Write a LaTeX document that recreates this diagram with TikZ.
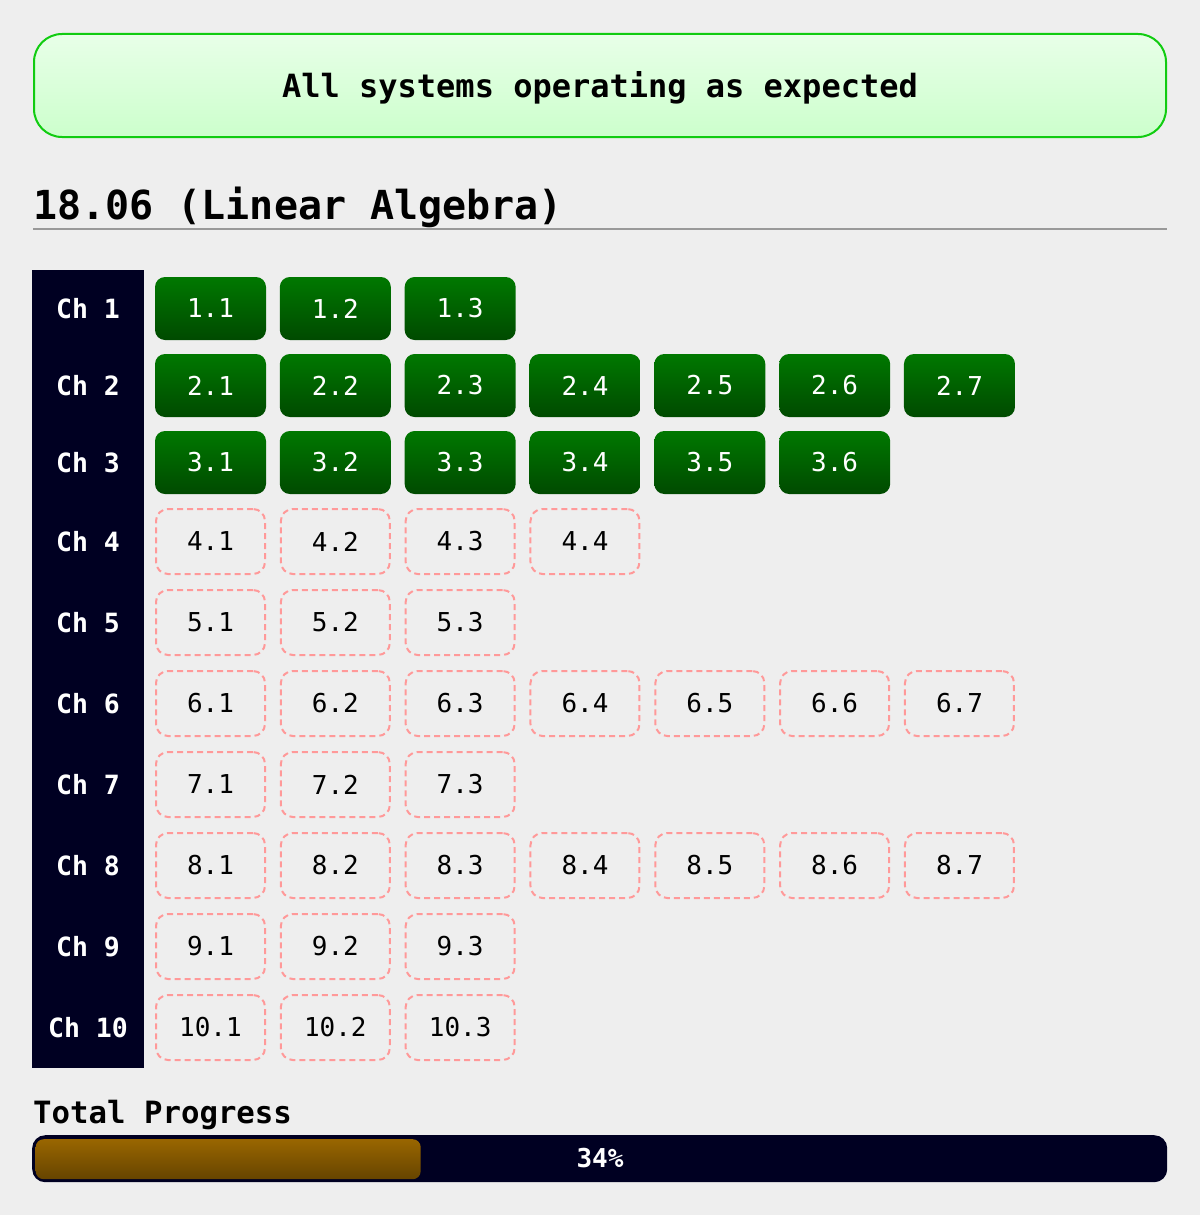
\documentclass[tikz,border=0pt]{standalone}
\usepackage{fontspec}
\setmonofont{DejaVu Sans Mono}
\definecolor{bg}{HTML}{EEEEEE}
\definecolor{navy}{HTML}{000022}
\definecolor{gtop}{HTML}{007800}
\definecolor{gbot}{HTML}{004A00}
\definecolor{pinkline}{HTML}{FF9999}
\definecolor{bannerline}{HTML}{11CC11}
\definecolor{bannertop}{HTML}{E8FFE8}
\definecolor{bannerbot}{HTML}{CCFFCC}
\definecolor{rulegray}{HTML}{999999}
\definecolor{btop}{HTML}{996600}
\definecolor{bbot}{HTML}{664400}
\tikzset{
  donebox/.style={rounded corners=10pt, minimum width=111pt, minimum height=63pt,
    inner sep=0pt, top color=gtop, bottom color=gbot, text=white,
    font=\ttfamily\fontsize{26}{30}\selectfont},
  todobox/.style={rounded corners=12pt, minimum width=109pt, minimum height=65pt,
    inner sep=0pt, draw=pinkline, line width=2pt, dash pattern=on 6pt off 4pt,
    text=black, font=\ttfamily\fontsize{26}{30}\selectfont},
  chlabel/.style={text=white, inner sep=0pt, font=\ttfamily\bfseries\fontsize{26.5}{30}\selectfont},
}
\begin{document}
\begin{tikzpicture}[x=1pt,y=-1pt]
\fill[bg] (0,0) rectangle (1200,1215);
\useasboundingbox (0,0) rectangle (1200,1215);
% banner
\node[draw=bannerline, line width=2pt, rounded corners=28pt, top color=bannertop, bottom color=bannerbot,
  minimum width=1132pt, minimum height=103pt, inner sep=0pt] (banner) at (600,85.5) {};
\node[inner sep=0pt, font=\ttfamily\bfseries\fontsize{32}{36}\selectfont] (bannertext) at (600,87.5) {All systems operating as expected};
% title
\node[anchor=base west, inner sep=0pt, font=\ttfamily\bfseries\fontsize{40}{44}\selectfont] (title) at (33,219) {18.06 (Linear Algebra)};
\coordinate (rl) at (33,229);
\coordinate (rr) at (1167,229);
\draw[rulegray, line width=2pt] (rl) -- (rr);
% sidebar
\node[fill=navy, minimum width=112pt, minimum height=798pt, inner sep=0pt, anchor=north west] (side) at (32,270) {};
% done rows
\foreach \r/\n/\y in {1/3/308.5, 2/7/385.5, 3/6/462.5}{
  \node[chlabel] (ch\r) at (88,\y) {Ch \r};
  \foreach \c in {1,...,\n}{
    \node[donebox] (b\r-\c) at ({210.5+124.83*(\c-1)},\y) {\r.\c};
  }
}
% todo rows
\foreach \r/\n/\y in {4/4/541.5, 5/3/622.5, 6/7/703.5, 7/3/784.5, 8/7/865.5, 9/3/946.5, 10/3/1027.5}{
  \node[chlabel] (ch\r) at (88,\y) {Ch \r};
  \foreach \c in {1,...,\n}{
    \node[todobox] (b\r-\c) at ({210.5+124.83*(\c-1)},\y) {\r.\c};
  }
}
% progress
\node[anchor=base west, inner sep=0pt, font=\ttfamily\bfseries\fontsize{30.7}{34}\selectfont] (tp) at (33,1123) {Total Progress};
\node[fill=navy, rounded corners=13pt, minimum width=1135pt, minimum height=47pt, inner sep=0pt, anchor=north west] (bar) at (32,1135) {};
\node[top color=btop, bottom color=bbot, rounded corners=8pt, minimum width=385pt, minimum height=40pt, inner sep=0pt, anchor=north west] (fillbar) at (35.5,1139) {};
\node[text=white, inner sep=0pt, font=\ttfamily\bfseries\fontsize{26}{30}\selectfont] (pct) at (600,1158) {34\%};
\end{tikzpicture}
\end{document}
